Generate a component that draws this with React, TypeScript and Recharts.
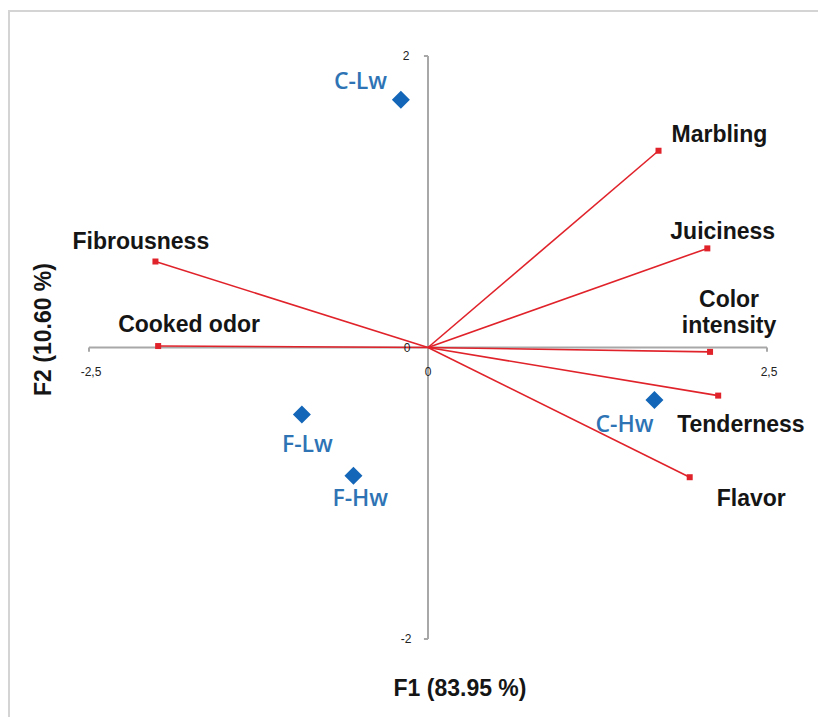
import { ScatterChart, Scatter, XAxis, YAxis, ReferenceLine, ReferenceDot } from 'recharts'

// observations (blue diamonds)
const obsNames = ['C-Lw', 'F-Lw', 'F-Hw', 'C-Hw']
const obsF1 = [-0.2, -0.93, -0.55, 1.67]
const obsF2 = [1.7, -0.46, -0.88, -0.36]

// variables (red vectors)
const varNames = ['Marbling', 'Juiciness', 'Color intensity', 'Tenderness', 'Flavor', 'Fibrousness', 'Cooked odor']
const varF1 = [1.7, 2.06, 2.08, 2.14, 1.93, -2.01, -1.99]
const varF2 = [1.35, 0.68, -0.03, -0.33, -0.89, 0.59, 0.01]

const xTicks = [-2.5, 0, 2.5]
const xTickLabels = ['-2,5', '0', '2,5']
const yTicks = [2, 0, -2]
const yTickLabels = ['2', '0', '-2']

const obsData = obsNames.map((name, i) => ({ name, x: obsF1[i], y: obsF2[i] }))
const varData = varNames.map((name, i) => ({ name, x: varF1[i], y: varF2[i] }))

// label placement relative to the point (px)
const labelPos: Record<string, { dx: number, dy: number, anchor?: string }> = {
  'C-Lw': { dx: -67, dy: -20 },
  'F-Lw': { dx: -20, dy: 28 },
  'F-Hw': { dx: -21, dy: 21 },
  'C-Hw': { dx: -59, dy: 23 },
  'Marbling': { dx: 13, dy: -17 },
  'Juiciness': { dx: -37, dy: -17 },
  'Color intensity': { dx: 19, dy: -40, anchor: 'middle' },
  'Tenderness': { dx: -41, dy: 28 },
  'Flavor': { dx: 27, dy: 21 },
  'Fibrousness': { dx: -83, dy: -21 },
  'Cooked odor': { dx: -40, dy: -22 },
}

const RED = '#e0222a'
const BLUE = '#1467b8'
const AXIS = '#a8a8a8'

const Diamond = (props: any) => {
  const { cx, cy, payload } = props
  const p = labelPos[payload.name]
  const s = 9
  return (
    <g>
      <path d={`M${cx},${cy - s}L${cx + s},${cy}L${cx},${cy + s}L${cx - s},${cy}Z`} fill={BLUE} />
      <text x={cx + p.dx} y={cy + p.dy} dominantBaseline="central" fill="#2e74b5"
        fontFamily="'Open Sans', sans-serif" fontWeight={600} fontSize={23}>{payload.name}</text>
    </g>
  )
}

const VarPoint = (props: any) => {
  const { cx, cy, payload } = props
  const p = labelPos[payload.name]
  const lines = p.anchor === 'middle' ? payload.name.split(' ') : [payload.name]
  return (
    <g>
      <rect x={cx - 3} y={cy - 3} width={6} height={6} fill={RED} />
      <text x={cx + p.dx} y={cy + p.dy} dominantBaseline="central" textAnchor={p.anchor || 'start'}
        fill="#151515" fontFamily="'Liberation Sans', Arial, sans-serif" fontWeight={700} fontSize={23}>
        {lines.map((l: string, i: number) => (
          <tspan key={i} x={cx + p.dx} dy={i === 0 ? (lines.length > 1 ? -13 : 0) : 26}>{l}</tspan>
        ))}
      </text>
    </g>
  )
}

const tickText = (label: string, dx: number, dy: number) => (props: any) => (
  <text x={props.cx + dx} y={props.cy + dy} textAnchor="middle" dominantBaseline="central"
    fontFamily="'Liberation Sans', Arial, sans-serif" fontSize={12} fill="#222">{label}</text>
)

export default function App() {
  return (
    <div style={{ position: 'absolute', left: 0, top: 0, width: 818, height: 717, background: '#fff', overflow: 'hidden' }}>
      <div style={{ position: 'absolute', left: 8, top: 10, width: 830, height: 730, borderLeft: '2px solid #d4d4d4', borderTop: '2px solid #d4d4d4' }} />
      <ScatterChart width={818} height={717} margin={{ top: 56, right: 51, bottom: 78, left: 89 }} style={{ position: 'absolute', left: 0, top: 0 }}>
        <XAxis type="number" dataKey="x" domain={[-2.5, 2.5]} ticks={xTicks} hide />
        <YAxis type="number" dataKey="y" domain={[-2, 2]} ticks={yTicks} hide />
        <ReferenceLine x={0} stroke={AXIS} strokeWidth={2} />
        <ReferenceLine y={0} stroke={AXIS} strokeWidth={2} />
        <ReferenceLine segment={[{ x: -2.5, y: 0 }, { x: -2.5, y: -0.03 }]} stroke={AXIS} strokeWidth={2} />
        <ReferenceLine segment={[{ x: 2.5, y: 0 }, { x: 2.5, y: -0.03 }]} stroke={AXIS} strokeWidth={2} />
        <ReferenceLine segment={[{ x: 0, y: 2 }, { x: -0.03, y: 2 }]} stroke={AXIS} strokeWidth={2} />
        <ReferenceLine segment={[{ x: 0, y: -2 }, { x: -0.03, y: -2 }]} stroke={AXIS} strokeWidth={2} />
        {xTicks.map((t, i) => (
          <ReferenceDot key={'xt' + i} x={t} y={0} r={0} shape={tickText(xTickLabels[i], t === 0 ? 0 : 2, 24)} />
        ))}
        {yTicks.map((t, i) => (
          <ReferenceDot key={'yt' + i} x={0} y={t} r={0} shape={tickText(yTickLabels[i], t === 0 ? -21 : -22, 0)} />
        ))}
        {varData.map((d) => (
          <ReferenceLine key={d.name} segment={[{ x: 0, y: 0 }, { x: d.x, y: d.y }]} stroke={RED} strokeWidth={1.6} />
        ))}
        <Scatter data={varData} shape={VarPoint} isAnimationActive={false} />
        <Scatter data={obsData} shape={Diamond} isAnimationActive={false} />
      </ScatterChart>
      <div style={{ position: 'absolute', left: 360, top: 675, width: 200, textAlign: 'center', font: "bold 23px 'Liberation Sans', Arial, sans-serif", color: '#151515' }}>
        F1 (83.95 %)
      </div>
      <div style={{ position: 'absolute', left: 43, top: 330, width: 0, height: 0 }}>
        <div style={{ position: 'absolute', left: -100, top: -14, width: 200, textAlign: 'center', transform: 'rotate(-90deg)', font: "bold 23px 'Liberation Sans', Arial, sans-serif", color: '#151515' }}>
          F2 (10.60 %)
        </div>
      </div>
    </div>
  )
}
